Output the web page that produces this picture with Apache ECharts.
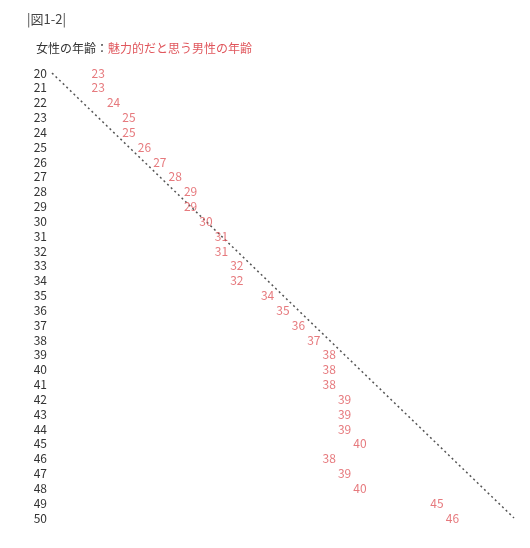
<!DOCTYPE html>
<html>
<head>
<meta charset="utf-8">
<script src="https://cdn.jsdelivr.net/npm/echarts@6/dist/echarts.min.js"></script>
<style>
html, body { margin: 0; padding: 0; background: #fff; }
#chart { width: 530px; height: 548px; }
</style>
</head>
<body>
<div id="chart"></div>
<script>
// 女性の年齢
var womenAges = ['20', '21', '22', '23', '24', '25', '26', '27', '28', '29', '30',
	'31', '32', '33', '34', '35', '36', '37', '38', '39', '40',
	'41', '42', '43', '44', '45', '46', '47', '48', '49', '50'];
// 魅力的だと思う男性の年齢
var menAges = [23, 23, 24, 25, 25, 26, 27, 28, 29, 29, 30,
	31, 31, 32, 32, 34, 35, 36, 37, 38, 38,
	38, 39, 39, 39, 40, 38, 39, 40, 45, 46];
// 同じ年齢の基準線
var sameAgeLine = [[20, '20'], [50, '50']];

var red = '#e0575d';
var myChart = echarts.init(document.getElementById('chart'));

var option = {
	animation: false,
	textStyle: {
		fontFamily: 'Noto Sans CJK JP'
	},
	title: [{
		text: '|図1-2|',
		left: 22,
		top: 8,
		textStyle: {
			fontSize: 13,
			fontWeight: 'normal',
			color: '#444'
		}
	}, {
		text: '{a|女性の年齢：}{b|魅力的だと思う男性の年齢}',
		left: 31,
		top: 37,
		textStyle: {
			fontWeight: 'normal',
			rich: {
				a: { fontSize: 12, color: '#333', fontWeight: 'normal' },
				b: { fontSize: 12, color: red, fontWeight: 'normal' }
			}
		}
	}],
	grid: {
		left: 52,
		right: 16,
		top: 73,
		bottom: 30
	},
	xAxis: {
		type: 'value',
		min: 20,
		max: 50,
		show: false
	},
	yAxis: {
		type: 'category',
		inverse: true,
		boundaryGap: false,
		data: womenAges,
		axisLine: { show: false },
		axisTick: { show: false },
		splitLine: { show: false },
		axisLabel: {
			interval: 0,
			margin: 5,
			fontSize: 12,
			color: '#333'
		}
	},
	series: [{
		name: '基準線',
		type: 'line',
		data: sameAgeLine,
		symbol: 'none',
		lineStyle: {
			color: '#555',
			width: 1.5,
			type: [2, 3]
		},
		z: 1
	}, {
		name: '男性の年齢',
		type: 'scatter',
		symbolSize: 0,
		data: menAges.map(function(v, i) {
			return [v, womenAges[i]];
		}),
		label: {
			show: true,
			position: 'inside',
			formatter: function(p) {
				return p.value[0];
			},
			fontSize: 12,
			color: red
		},
		z: 2
	}]
};
myChart.setOption(option);
</script>
</body>
</html>
